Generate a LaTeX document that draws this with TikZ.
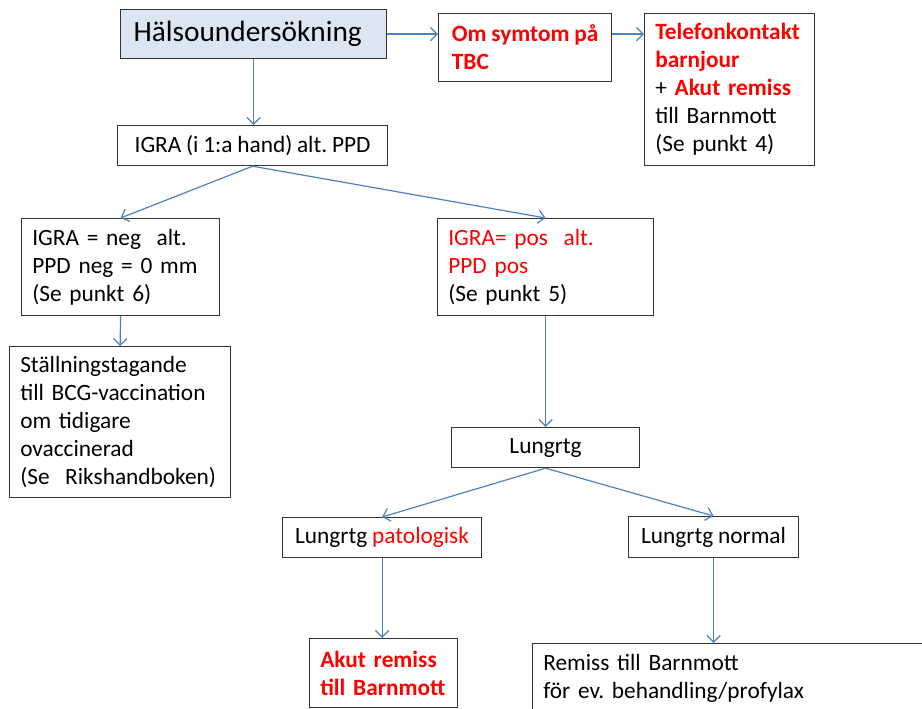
\documentclass[tikz,border=0pt]{standalone}
\usepackage{fontspec}
\setmainfont{Carlito}[WordSpace=0.9]
\usetikzlibrary{arrows.meta}
\frenchspacing

\definecolor{linkblue}{HTML}{4F81BD}
\definecolor{headfill}{HTML}{DCE6F2}
\definecolor{alertred}{HTML}{FF0000}

\tikzstyle{box}=[draw=black!80,line width=0.9pt,anchor=north west,inner xsep=8pt,inner ysep=4pt,font=\fontsize{17.5}{21}\selectfont]
\tikzstyle{textbox}=[box,align=left]
\tikzstyle{flow}=[draw=linkblue,line width=0.9pt,-{Straight Barb[length=5pt,width=10pt]}]

\begin{document}
\begin{tikzpicture}[x=0.75pt,y=-0.75pt]
	\useasboundingbox (0,0) rectangle (922,709);
	\clip (0,0) rectangle (922,709);
	%Top row
	\node[textbox,fill=headfill,minimum width=199.5pt,minimum height=36.75pt,text width=180pt,font=\fontsize{22}{26}\selectfont] (halso) at (120,9) {Hälsoundersökning};
	\node[textbox,minimum width=129.75pt,minimum height=51pt] (symtom) at (438,13)
		{\bfseries\color{alertred}Om symtom på\\\bfseries\color{alertred}TBC};
	\node[textbox,minimum width=127.5pt,minimum height=114pt,text width=111.5pt] (telefon) at (644,13)
		{{\bfseries\color{alertred}Telefonkontakt}\\{\bfseries\color{alertred}barnjour}\\+ {\bfseries\color{alertred}Akut remiss}\\till Barnmott\\(Se punkt 4)};
	%Test
	\node[box,minimum width=202.5pt,minimum height=30pt] (igra) at (117,125) {IGRA (i 1:a hand) alt. PPD};
	\node[textbox,minimum width=148.5pt,minimum height=72.75pt,text width=132.5pt] (neg) at (21,218)
		{IGRA = neg\ \ alt.\\PPD neg = 0 mm\\(Se punkt 6)};
	\node[textbox,minimum width=162pt,minimum height=72.75pt,text width=146pt] (pos) at (437,218)
		{{\color{alertred}IGRA= pos\ \ alt.}\\{\color{alertred}PPD pos}\\(Se punkt 5)};
	\node[textbox,minimum width=165.75pt,minimum height=113.25pt,text width=149.75pt] (vacc) at (9,346)
		{Ställningstagande\\till BCG-vaccination\\om tidigare\\ovaccinerad\\(Se\ \ Rikshandboken)};
	%Lungrtg
	\node[box,minimum width=141pt,minimum height=30pt] (lungrtg) at (451,427) {Lungrtg};
	\node[box,minimum width=149.25pt,minimum height=30pt] (patol) at (282,517) {Lungrtg {\color{alertred}patologisk}};
	\node[box,minimum width=127.5pt,minimum height=30.75pt] (normal) at (628,516) {Lungrtg normal};
	\node[textbox,minimum width=111pt,minimum height=51.75pt,text width=95pt] (akut) at (309,638)
		{\bfseries\color{alertred}Akut remiss\\\bfseries\color{alertred}till Barnmott};
	\node[textbox,minimum width=321pt,inner ysep=8pt,text width=305pt] (remiss) at (532,643)
		{Remiss till Barnmott\\för ev. behandling/profylax};
	%Arrows
	\draw[flow] (halso.east) -- (halso.east -| symtom.west);
	\draw[flow] (halso.east -| symtom.east) -- (halso.east -| telefon.west);
	\draw[flow] (halso.south) -- (halso.south |- igra.north);
	\draw[flow] (igra.south) -- (neg.north);
	\draw[flow] (igra.south) -- (pos.north);
	\draw[flow] (neg.south) -- (vacc.north);
	\draw[flow] (pos.south) -- (lungrtg.north);
	\draw[flow] (lungrtg.south) -- (patol.north);
	\draw[flow] (lungrtg.south) -- (normal.north);
	\draw[flow] (patol.south) -- (patol.south |- akut.north);
	\draw[flow] (normal.south) -- (normal.south |- remiss.north);
\end{tikzpicture}
\end{document}
